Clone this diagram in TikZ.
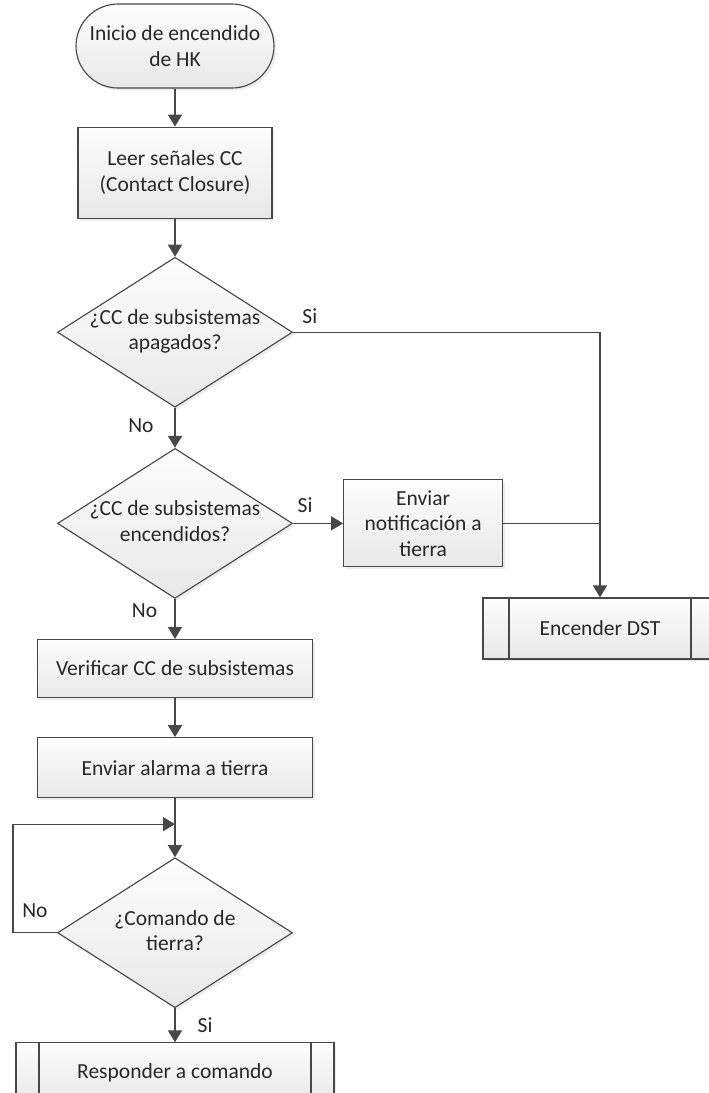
\documentclass[tikz,border=0pt]{standalone}
\usepackage{fontspec}
\setmainfont{Carlito}
\usetikzlibrary{positioning,arrows.meta,shapes.geometric,shadows,calc}

\definecolor{linegray}{RGB}{72,72,72}
\definecolor{boxtop}{RGB}{253,253,253}
\definecolor{boxbot}{RGB}{232,232,232}
\definecolor{textgray}{RGB}{40,40,40}

% text of a decision node may stick out of the diamond
\newcommand{\dectext}[1]{\makebox[0pt]{\begin{tabular}{@{}c@{}}#1\end{tabular}}}

\begin{document}
\begin{tikzpicture}[font=\fontsize{15.3}{18}\selectfont, text=textgray,
  block/.style={rectangle, draw=linegray, line width=0.8pt, top color=boxtop,
    bottom color=boxbot, align=center, inner sep=2pt,
    drop shadow={shadow xshift=0.06cm, shadow yshift=-0.06cm, opacity=0.15}},
  startstop/.style={block, rounded corners=1.05cm, minimum width=4.95cm, minimum height=2.1cm},
  decision/.style={block, diamond, minimum width=5.875cm, minimum height=3.75cm, inner sep=0pt},
  subproc/.style={block, path picture={
    \draw[line] ([xshift=#1]path picture bounding box.north west) -- ([xshift=#1]path picture bounding box.south west);
    \draw[line] ([xshift=-#1]path picture bounding box.north east) -- ([xshift=-#1]path picture bounding box.south east);}},
  subproc/.default=0.6cm,
  line/.style={draw=linegray, line width=0.9pt},
  arrow/.style={line, -{Triangle[length=8.5pt,width=10pt]}},
  answer/.style={inner sep=0pt}]

  \path[use as bounding box, fill=white] (0,0) rectangle (17.725,-27.325);

  \node[startstop] (start) at (4.375,-1.15) {Inicio de encendido\\de HK};
  \node[block, minimum width=4.85cm, minimum height=2.275cm, below=0.95cm of start] (leer) {Leer señales CC\\(Contact Closure)};
  \node[decision, below=0.95cm of leer] (apagados) {\dectext{¿CC de subsistemas\\apagados?}};
  \node[decision, below=1.0cm of apagados] (encendidos) {\dectext{¿CC de subsistemas\\encendidos?}};
  \node[block, minimum width=3.975cm, minimum height=2.175cm, right=1.25cm of encendidos] (notif) {Enviar\\notificación a\\tierra};
  \node[block, minimum width=6.875cm, minimum height=1.45cm, below=1.0cm of encendidos] (verif) {Verificar CC de subsistemas};
  \node[block, minimum width=6.875cm, minimum height=1.5cm, below=0.975cm of verif] (alarma) {Enviar alarma a tierra};
  \node[decision, below=1.475cm of alarma] (comando) {\dectext{¿Comando de\\tierra?}};
  \node[subproc=0.575cm, minimum width=7.95cm, minimum height=1.5cm, below=0.85cm of comando] (responder) {Responder a comando};
  \node[subproc=0.65cm, minimum width=5.85cm, minimum height=1.525cm] (dst) at (15.0,-15.7125) {Encender DST};

  % loop back for the ground command
  \coordinate (join) at ($(alarma.south)!0.44!(comando.north)$);
  \coordinate (loop) at ([xshift=-4.05cm]join);

  \draw[arrow] (start) -- (leer);
  \draw[arrow] (leer) -- (apagados);
  \draw[arrow] (apagados) -- node[answer, pos=0.45, left=0.52cm] {No} (encendidos);
  \draw[arrow] (apagados.east) -| node[answer, pos=0, anchor=south west, xshift=0.22cm, yshift=0.2cm] {Si} (dst.north);
  \draw[arrow] (encendidos) -- node[answer, pos=0, anchor=south west, xshift=0.1cm, yshift=0.25cm] {Si} (notif);
  \draw[line] (notif.east) -- (notif.east -| dst.north);
  \draw[arrow] (encendidos) -- node[answer, pos=0.3, left=0.43cm] {No} (verif);
  \draw[arrow] (verif) -- (alarma);
  \draw[arrow] (alarma) -- (comando);
  \draw[arrow] (comando.west) -| node[answer, pos=0.25, above=0.35cm] {No} (loop) -- (join);
  \draw[arrow] (comando) -- node[answer, pos=0.5, right=0.55cm] {Si} (responder);
\end{tikzpicture}
\end{document}
